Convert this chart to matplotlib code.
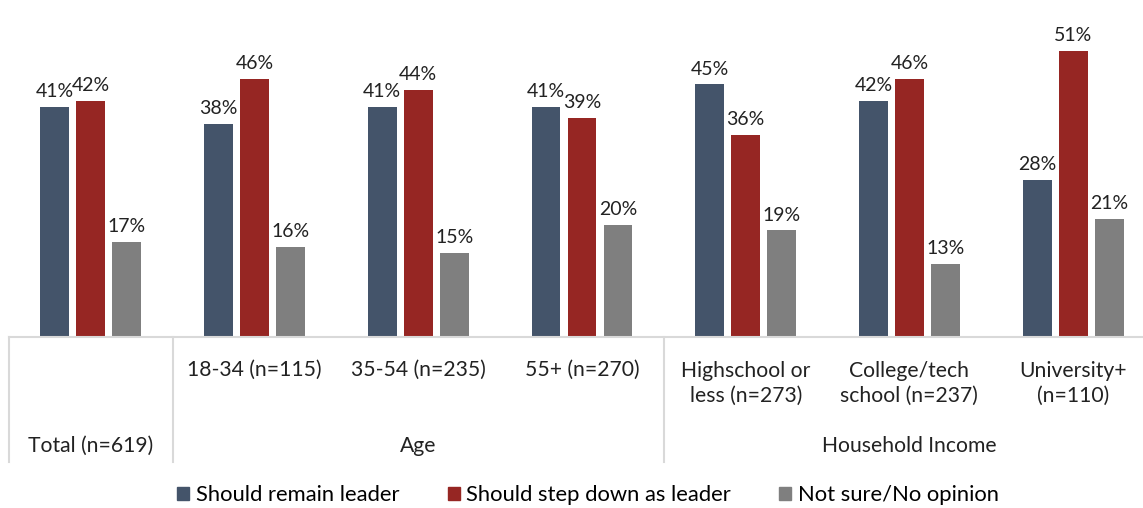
import numpy as np
import matplotlib.pyplot as plt
from matplotlib.patches import Patch

plt.rcParams['font.family'] = ['Lato', 'DejaVu Sans']

categories = ["Total (n=619)", "18-34 (n=115)", "35-54 (n=235)", "55+ (n=270)",
              "Highschool or\nless (n=273)", "College/tech\nschool (n=237)", "University+\n(n=110)"]
groups = ["Age", "Household Income"]
series = ["Should remain leader", "Should step down as leader", "Not sure/No opinion"]
remain = [41, 38, 41, 41, 45, 42, 28]
step_down = [42, 46, 44, 39, 36, 46, 51]
not_sure = [17, 16, 15, 20, 19, 13, 21]
colors = ["#44546A", "#962623", "#7F7F7F"]

fig = plt.figure(figsize=(11.43, 5.08), dpi=100)
ax = fig.add_axes([9 / 1143, 171 / 508, 1146 / 1143, 337 / 508])

x = np.arange(len(categories))
w = 0.176
off = 0.22
for i, (vals, c) in enumerate(zip([remain, step_down, not_sure], colors)):
    pos = x + (i - 1) * off
    ax.bar(pos, vals, width=w, color=c)
    for p, v in zip(pos, vals):
        ax.text(p, v + 1.2, f"{v}%", ha="center", va="bottom", fontsize=14, color="#222222")

ax.set_xlim(-0.5, 6.5)
ax.set_ylim(0, 60)
for s in ax.spines.values():
    s.set_visible(False)
ax.set_xticks([])
ax.set_yticks([])

tr = ax.get_xaxis_transform()
ax.axhline(0, color="#D9D9D9", lw=1.5, clip_on=False)
for b in [-0.5, 0.5, 3.5]:
    ax.plot([b, b], [0, -0.371], transform=tr, color="#D9D9D9", lw=1.5, clip_on=False)

# category labels
lab_font = 15.2
for i, lab in enumerate(categories):
    if i == 0:
        ypos = -0.323
    elif "\n" in lab:
        ypos = -0.139
    else:
        ypos = -0.098
    ax.text(i, ypos, lab, transform=tr, ha="center", va="center", fontsize=lab_font,
            color="#222222", linespacing=1.3)
ax.text(2, -0.323, groups[0], transform=tr, ha="center", va="center", fontsize=lab_font, color="#222222")
ax.text(5, -0.323, groups[1], transform=tr, ha="center", va="center", fontsize=lab_font, color="#222222")

handles = [Patch(color=c, label=s) for s, c in zip(series, colors)]
fig.legend(handles=handles, loc="center", bbox_to_anchor=(588 / 1143, 13 / 508), ncol=3, frameon=False,
           fontsize=15.8, handlelength=0.55, handleheight=0.55, handletextpad=0.3, columnspacing=2.2)

fig.savefig("out.png", dpi=100)
